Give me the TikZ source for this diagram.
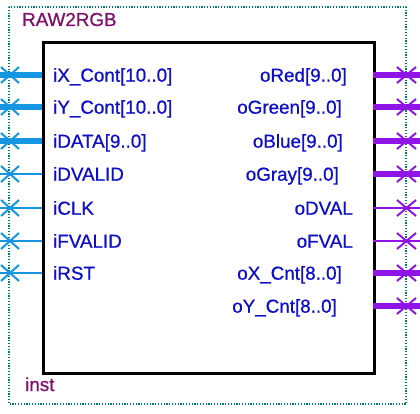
\documentclass[tikz,border=0pt]{standalone}
\usepackage{fontspec}
\setmainfont{Liberation Sans}
\newfontfamily\pinfont[FakeBold=0.8]{Liberation Sans}
\definecolor{pinblue}{RGB}{20,150,225}
\definecolor{pinpurple}{RGB}{145,20,230}
\definecolor{lblblue}{RGB}{15,15,200}
\definecolor{titlepurple}{RGB}{128,16,110}
\definecolor{frameteal}{RGB}{0,125,115}
\begin{document}
\begin{tikzpicture}[x=1pt,y=-1pt,
  lbl/.style={font=\pinfont\fontsize{18.8}{20}\selectfont, text=lblblue, inner sep=0pt},
  ttl/.style={font=\pinfont\fontsize{18.8}{20}\selectfont, text=titlepurple, inner sep=0pt, anchor=base west},
  inbus/.style={draw=pinblue, line width=6pt},
  insig/.style={draw=pinblue, line width=2pt},
  outbus/.style={draw=pinpurple, line width=6pt},
  outsig/.style={draw=pinpurple, line width=2pt},
  xin/.style={draw=pinblue, line width=2pt},
  xout/.style={draw=pinpurple, line width=2pt},
  frame/.style={draw=frameteal, line width=1.6pt, dash pattern=on 1.2pt off 1.6pt},
  blk/.style={draw=black, line width=3pt}]
\useasboundingbox (0,0) rectangle (420,414);
\fill[white] (0,0) rectangle (420,414);
\draw[frame] (9,7) rectangle (406,404);
\node[ttl] (title) at (22,26) {RAW2RGB};
\node[ttl] (inst) at (25,391) {inst};
\node[blk, minimum width=331pt, minimum height=331pt, inner sep=0pt, anchor=north west] (box) at (42,41) {};
% inputs
\foreach \nm/\y/\txt/\st in {a/75/{iX\_Cont[10..0]}/inbus, b/107/{iY\_Cont[10..0]}/inbus, c/141/{iDATA[9..0]}/inbus, d/174/iDVALID/insig, e/208/iCLK/insig, f/241/iFVALID/insig, g/273/iRST/insig}{
  \coordinate (in\nm) at (42,\y);
  \coordinate (inend\nm) at (0,\y);
  \coordinate (xa\nm) at (1,\y-8);
  \coordinate (xb\nm) at (19,\y+8);
  \coordinate (xc\nm) at (1,\y+8);
  \coordinate (xd\nm) at (19,\y-8);
  \draw[\st] (in\nm) -- (inend\nm);
  \draw[xin] (xa\nm) -- (xb\nm);
  \draw[xin] (xc\nm) -- (xd\nm);
  \node[lbl, anchor=base west] (lin\nm) at (53,\y+6.7) {\txt};
}
% outputs
\foreach \nm/\y/\r/\txt/\st in {a/75/347/{oRed[9..0]}/outbus, b/107/342/{oGreen[9..0]}/outbus, c/141/343/{oBlue[9..0]}/outbus, d/174/339/{oGray[9..0]}/outbus, e/208/353/oDVAL/outsig, f/241/353/oFVAL/outsig, g/273/342/{oX\_Cnt[8..0]}/outbus, h/306/337/{oY\_Cnt[8..0]}/outbus}{
  \coordinate (out\nm) at (373,\y);
  \coordinate (outend\nm) at (420,\y);
  \coordinate (ya\nm) at (397,\y-8);
  \coordinate (yb\nm) at (416,\y+8);
  \coordinate (yc\nm) at (397,\y+8);
  \coordinate (yd\nm) at (416,\y-8);
  \draw[\st] (out\nm) -- (outend\nm);
  \draw[xout] (ya\nm) -- (yb\nm);
  \draw[xout] (yc\nm) -- (yd\nm);
  \node[lbl, anchor=base east] (lout\nm) at (\r,\y+6.7) {\txt};
}
\end{tikzpicture}
\end{document}
